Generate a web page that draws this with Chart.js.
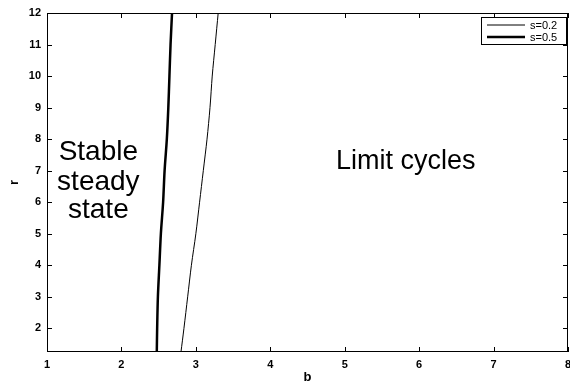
<!DOCTYPE html>
<html>
<head>
<meta charset="utf-8">
<script src="https://cdn.jsdelivr.net/npm/chart.js@4.4.1/dist/chart.umd.min.js"></script>
<style>
  html, body { margin: 0; padding: 0; background: #fff; }
  #wrap { width: 570px; height: 385px; position: relative; }
</style>
</head>
<body>
<div id="wrap"><canvas id="chart"></canvas></div>
<script>
// Stability boundary r(b) for two values of s
const rValues = [1.25, 2, 3, 4, 5, 6, 7, 8, 9, 10, 11, 12];
const bS02 = [2.80, 2.84, 2.89, 2.94, 3.00, 3.05, 3.10, 3.15, 3.19, 3.22, 3.26, 3.30];
const bS05 = [2.475, 2.48, 2.49, 2.51, 2.53, 2.56, 2.58, 2.61, 2.63, 2.645, 2.66, 2.68];
const seriesLabels = ['s=0.2', 's=0.5'];
const xTicks = [1, 2, 3, 4, 5, 6, 7, 8];
const yTicks = [2, 3, 4, 5, 6, 7, 8, 9, 10, 11, 12];

const FONT = '"Liberation Sans", Arial, sans-serif';

function toPoints(bs) {
  return bs.map((b, i) => ({ x: b, y: rValues[i] }));
}

// Box, inward ticks on all four sides, region labels and the legend box
const framePlugin = {
  id: 'frame',
  afterDraw(chart) {
    const { ctx, chartArea: a, scales } = chart;
    const x = scales.x, y = scales.y;
    ctx.save();
    ctx.strokeStyle = '#000';
    ctx.lineWidth = 1;
    ctx.strokeRect(a.left + 0.5, a.top + 0.5, a.right - a.left - 1, a.bottom - a.top - 1);

    const t = 5;
    ctx.beginPath();
    xTicks.forEach(v => {
      const px = Math.round(x.getPixelForValue(v)) + 0.5;
      ctx.moveTo(px, a.bottom); ctx.lineTo(px, a.bottom - t);
      ctx.moveTo(px, a.top); ctx.lineTo(px, a.top + t);
    });
    yTicks.forEach(v => {
      const py = Math.round(y.getPixelForValue(v)) + 0.5;
      ctx.moveTo(a.left, py); ctx.lineTo(a.left + t, py);
      ctx.moveTo(a.right, py); ctx.lineTo(a.right - t, py);
    });
    ctx.stroke();

    // region annotations
    ctx.fillStyle = '#000';
    ctx.textAlign = 'center';
    ctx.textBaseline = 'middle';
    ctx.font = '28px ' + FONT;
    const cx = x.getPixelForValue(1.69);
    ctx.fillText('Stable', cx, y.getPixelForValue(7.59));
    ctx.fillText('steady', cx, y.getPixelForValue(6.63));
    ctx.fillText('state', cx, y.getPixelForValue(5.75));
    ctx.font = '27px ' + FONT;
    ctx.fillText('Limit cycles', x.getPixelForValue(5.82), y.getPixelForValue(7.3));

    // legend
    const lx = 481, ly = 17, lw = 85, lh = 27;
    ctx.fillStyle = '#fff';
    ctx.fillRect(lx, ly, lw, lh);
    ctx.lineWidth = 1;
    ctx.strokeRect(lx + 0.5, ly + 0.5, lw, lh);
    ctx.font = '11px ' + FONT;
    ctx.textAlign = 'left';
    chart.data.datasets.forEach((ds, i) => {
      const yy = ly + 8 + i * 12;
      ctx.beginPath();
      ctx.lineWidth = ds.borderWidth;
      ctx.moveTo(lx + 6, yy);
      ctx.lineTo(lx + 44, yy);
      ctx.stroke();
      ctx.fillStyle = '#000';
      ctx.fillText(ds.label, lx + 49, yy + 1);
    });
    ctx.restore();
  }
};

new Chart(document.getElementById('chart'), {
  type: 'scatter',
  data: {
    datasets: [
      {
        label: seriesLabels[0],
        data: toPoints(bS02),
        showLine: true,
        borderColor: '#000',
        borderWidth: 1,
        pointRadius: 0,
        tension: 0.3
      },
      {
        label: seriesLabels[1],
        data: toPoints(bS05),
        showLine: true,
        borderColor: '#000',
        borderWidth: 2.5,
        pointRadius: 0,
        tension: 0.3
      }
    ]
  },
  options: {
    responsive: true,
    maintainAspectRatio: false,
    animation: false,
    layout: { padding: { top: 13, right: 2, left: 0, bottom: 0 } },
    scales: {
      x: {
        type: 'linear',
        min: 1,
        max: 8,
        afterBuildTicks: s => { s.ticks = xTicks.map(v => ({ value: v })); },
        afterFit: s => { s.height = 33; s.paddingLeft = 0; s.paddingRight = 0; },
        grid: { display: false, drawTicks: false },
        border: { display: false },
        ticks: {
          color: '#000',
          padding: 6,
          font: { family: FONT, size: 11, weight: 'bold' }
        },
        title: {
          display: true,
          text: 'b',
          color: '#000',
          padding: { top: 0, bottom: 0 },
          font: { family: FONT, size: 13, weight: 'bold' }
        }
      },
      y: {
        type: 'linear',
        min: 1.25,
        max: 12,
        afterBuildTicks: s => { s.ticks = yTicks.map(v => ({ value: v })); },
        afterFit: s => { s.width = 47; s.paddingTop = 0; s.paddingBottom = 0; },
        grid: { display: false, drawTicks: false },
        border: { display: false },
        ticks: {
          color: '#000',
          padding: 6,
          font: { family: FONT, size: 11, weight: 'bold' }
        },
        title: {
          display: true,
          text: 'r',
          color: '#000',
          padding: { top: 7, bottom: 0 },
          font: { family: FONT, size: 13, weight: 'bold' }
        }
      }
    },
    plugins: {
      legend: { display: false },
      tooltip: { enabled: false }
    }
  },
  plugins: [framePlugin]
});
</script>
</body>
</html>
